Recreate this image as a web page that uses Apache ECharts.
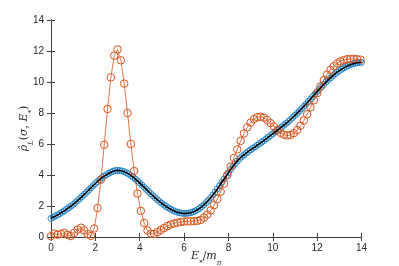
<!DOCTYPE html>
<html>
<head>
<meta charset="utf-8">
<script src="https://cdn.jsdelivr.net/npm/echarts@6/dist/echarts.min.js"></script>
<style>html,body{margin:0;padding:0;background:#fff;}#c{width:399px;height:266px;}</style>
</head>
<body>
<div id="c"></div>
<script>
// x ticks / y ticks
const xTicks = [0, 2, 4, 6, 8, 10, 12, 14];
const yTicks = [0, 2, 4, 6, 8, 10, 12, 14];

// blue circles (and black curve), sampled every 0.1 from 0 to 14
const blueStep = 0.1;
const blueY = [
 1.20,1.27,1.35,1.43,1.51,1.60,1.69,1.79,1.89,1.99,
 2.10,2.22,2.35,2.48,2.61,2.75,2.89,3.03,3.17,3.31,
 3.45,3.58,3.71,3.83,3.93,4.02,4.10,4.18,4.24,4.29,
 4.30,4.29,4.26,4.21,4.15,4.07,3.97,3.86,3.74,3.62,
 3.49,3.35,3.21,3.07,2.93,2.79,2.66,2.53,2.40,2.28,
 2.17,2.06,1.96,1.87,1.79,1.72,1.65,1.60,1.56,1.53,
 1.52,1.52,1.54,1.57,1.62,1.68,1.76,1.85,1.96,2.08,
 2.22,2.37,2.53,2.71,2.90,3.10,3.31,3.52,3.73,3.94,
 4.15,4.35,4.55,4.73,4.90,5.05,5.18,5.30,5.41,5.52,
 5.62,5.72,5.82,5.92,6.02,6.12,6.22,6.33,6.44,6.55,
 6.66,6.77,6.88,6.99,7.10,7.21,7.33,7.45,7.58,7.71,
 7.85,7.99,8.13,8.28,8.43,8.58,8.74,8.90,9.06,9.22,
 9.38,9.54,9.70,9.85,10.00,10.14,10.27,10.40,10.52,10.63,
 10.73,10.82,10.91,10.99,11.06,11.12,11.17,11.21,11.24,11.26,
 11.27
];

// orange circles, sampled every 0.15 from 0
const orangeStep = 0.15;
const orangeY = [
 0.05,0.22,0.15,0.20,0.27,0.14,0.06,0.27,0.48,0.60,
 0.42,0.19,0.07,0.55,1.87,3.70,5.95,8.26,10.30,11.70,
 12.10,11.40,9.90,8.00,6.00,4.26,2.80,1.68,0.90,0.42,
 0.22,0.20,0.32,0.45,0.58,0.71,0.81,0.88,0.93,0.97,
 1.00,1.01,1.01,1.02,1.04,1.10,1.25,1.45,1.72,2.05,
 2.45,2.92,3.45,4.00,4.55,5.10,5.65,6.20,6.68,7.07,
 7.38,7.60,7.73,7.76,7.70,7.55,7.35,7.12,6.90,6.72,
 6.60,6.55,6.58,6.70,6.90,7.18,7.52,7.92,8.36,8.82,
 9.28,9.72,10.12,10.48,10.78,11.02,11.20,11.33,11.42,11.47,
 11.49,11.49,11.47,11.44
];

const blueData = blueY.map((v, i) => [+(i * blueStep).toFixed(2), v]);
const orangeData = orangeY.map((v, i) => [+(i * orangeStep).toFixed(2), v]);

const axisCol = '#404040';
const labelFont = { color: '#262626', fontSize: 10, fontFamily: 'Liberation Sans, Arial, sans-serif' };
const mathRich = {
  i: { fontFamily: 'DejaVu Serif', fontStyle: 'italic', fontSize: 11, color: '#262626', lineHeight: 16, verticalAlign: 'top' },
  n: { fontFamily: 'DejaVu Serif', fontSize: 11, color: '#262626', lineHeight: 16, verticalAlign: 'top' },
  s: { fontFamily: 'DejaVu Serif', fontStyle: 'italic', fontSize: 7, color: '#262626', lineHeight: 16, verticalAlign: 'bottom' }
};

const chart = echarts.init(document.getElementById('c'), null, { renderer: 'canvas' });
chart.setOption({
  animation: false,
  grid: { left: 51, right: 37.5, top: 20, bottom: 29, outerBoundsMode: 'none', containLabel: false },
  xAxis: [{
    type: 'value', min: 0, max: 14, interval: 2,
    axisLine: { show: true, lineStyle: { color: axisCol, width: 1 } },
    axisTick: { show: true, inside: true, length: 4, lineStyle: { color: axisCol } },
    axisLabel: Object.assign({ margin: 6 }, labelFont),
    splitLine: { show: false },
    name: '{i|E}{s|*}{n|/}{i|m}{s|π}',
    nameLocation: 'middle', nameGap: 14, nameMoveOverlap: false,
    nameTextStyle: { rich: mathRich }
  }, {
    type: 'value', min: 0, max: 14, interval: 2, position: 'top',
    axisLine: { show: true, lineStyle: { color: axisCol, width: 1 } },
    axisTick: { show: true, inside: true, length: 4, lineStyle: { color: axisCol } },
    axisLabel: { show: false }, splitLine: { show: false }
  }],
  yAxis: [{
    type: 'value', min: 0, max: 14, interval: 2,
    axisLine: { show: true, lineStyle: { color: axisCol, width: 1 } },
    axisTick: { show: true, inside: true, length: 4, lineStyle: { color: axisCol } },
    axisLabel: Object.assign({ margin: 7 }, labelFont),
    splitLine: { show: false },
    name: '{i|ρ̂}{s|L}{n|(}{i|σ}{n|, }{i|E}{s|*}{n|)}',
    nameLocation: 'middle', nameGap: 16, nameRotate: 90, nameMoveOverlap: false,
    nameTextStyle: { rich: mathRich }
  }, {
    type: 'value', min: 0, max: 14, interval: 2, position: 'right',
    axisLine: { show: true, lineStyle: { color: axisCol, width: 1 } },
    axisTick: { show: true, inside: true, length: 4, lineStyle: { color: axisCol } },
    axisLabel: { show: false }, splitLine: { show: false }
  }],
  series: [{
    type: 'scatter', data: blueData, symbol: 'circle', symbolSize: 6,
    itemStyle: { color: 'rgba(255,255,255,0)', borderColor: '#0072BD', borderWidth: 1 }, z: 2
  }, {
    type: 'line', data: orangeData, symbol: 'circle', symbolSize: 7.5, showSymbol: true,
    lineStyle: { color: '#D95319', width: 0.8 },
    itemStyle: { color: 'rgba(255,255,255,0)', borderColor: '#D95319', borderWidth: 1 }, z: 3
  }, {
    type: 'line', data: blueData, symbol: 'none', smooth: false,
    lineStyle: { color: '#000', width: 1.6 }, z: 4
  }]
});
</script>
</body>
</html>
